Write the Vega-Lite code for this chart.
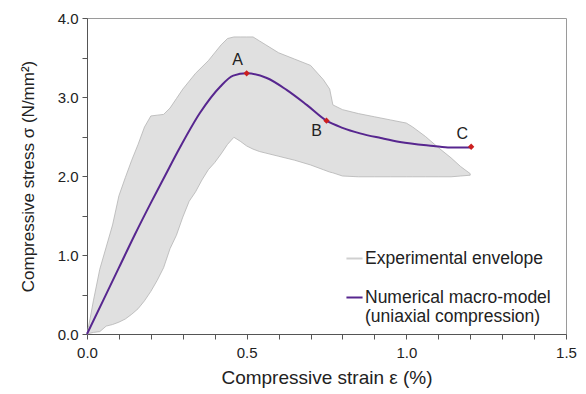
{
  "$schema": "https://vega.github.io/schema/vega-lite/v6.json",
  "width": 479,
  "height": 316,
  "autosize": "none",
  "padding": {"left": 87, "top": 18, "right": 20, "bottom": 60},
  "background": "white",
  "config": {
    "font": "Liberation Sans",
    "view": {"stroke": "#9a9a9a", "strokeWidth": 1},
    "axis": {
      "grid": false,
      "domainColor": "#555555",
      "tickColor": "#555555",
      "tickSize": 5,
      "labelFont": "Liberation Sans",
      "labelFontSize": 15,
      "labelColor": "#222222",
      "labelOverlap": false,
      "labelFlush": false,
      "titleFont": "Liberation Sans",
      "titleFontSize": 17,
      "titleFontWeight": "normal",
      "titleColor": "#222222"
    }
  },
  "datasets": {
    "envelope": [
      {"strain": 0.0, "lo": 0.0, "hi": 0.0},
      {"strain": 0.01, "lo": 0.01, "hi": 0.2},
      {"strain": 0.02, "lo": 0.02, "hi": 0.42},
      {"strain": 0.04, "lo": 0.03, "hi": 0.82},
      {"strain": 0.06, "lo": 0.1, "hi": 1.1},
      {"strain": 0.08, "lo": 0.12, "hi": 1.38},
      {"strain": 0.1, "lo": 0.15, "hi": 1.75},
      {"strain": 0.12, "lo": 0.19, "hi": 1.98},
      {"strain": 0.14, "lo": 0.25, "hi": 2.2},
      {"strain": 0.16, "lo": 0.32, "hi": 2.4},
      {"strain": 0.18, "lo": 0.42, "hi": 2.62},
      {"strain": 0.2, "lo": 0.54, "hi": 2.76},
      {"strain": 0.22, "lo": 0.68, "hi": 2.77},
      {"strain": 0.24, "lo": 0.84, "hi": 2.78},
      {"strain": 0.26, "lo": 1.08, "hi": 2.86},
      {"strain": 0.28, "lo": 1.25, "hi": 2.98},
      {"strain": 0.3, "lo": 1.48, "hi": 3.1},
      {"strain": 0.32, "lo": 1.68, "hi": 3.2},
      {"strain": 0.34, "lo": 1.8, "hi": 3.3},
      {"strain": 0.36, "lo": 1.95, "hi": 3.38},
      {"strain": 0.38, "lo": 2.08, "hi": 3.46},
      {"strain": 0.4, "lo": 2.17, "hi": 3.56},
      {"strain": 0.42, "lo": 2.28, "hi": 3.66},
      {"strain": 0.44, "lo": 2.4, "hi": 3.74},
      {"strain": 0.46, "lo": 2.49, "hi": 3.76},
      {"strain": 0.48, "lo": 2.44, "hi": 3.76},
      {"strain": 0.5, "lo": 2.38, "hi": 3.76},
      {"strain": 0.52, "lo": 2.34, "hi": 3.76},
      {"strain": 0.54, "lo": 2.31, "hi": 3.71},
      {"strain": 0.56, "lo": 2.29, "hi": 3.66},
      {"strain": 0.6, "lo": 2.25, "hi": 3.56},
      {"strain": 0.65, "lo": 2.2, "hi": 3.48},
      {"strain": 0.7, "lo": 2.14, "hi": 3.4},
      {"strain": 0.74, "lo": 2.08, "hi": 3.22},
      {"strain": 0.76, "lo": 2.05, "hi": 3.1},
      {"strain": 0.77, "lo": 2.04, "hi": 2.9},
      {"strain": 0.8, "lo": 2.0, "hi": 2.84},
      {"strain": 0.85, "lo": 1.99, "hi": 2.79},
      {"strain": 0.9, "lo": 1.99, "hi": 2.75},
      {"strain": 0.95, "lo": 1.99, "hi": 2.71},
      {"strain": 1.0, "lo": 1.99, "hi": 2.67},
      {"strain": 1.02, "lo": 1.99, "hi": 2.62},
      {"strain": 1.06, "lo": 1.99, "hi": 2.5},
      {"strain": 1.1, "lo": 1.99, "hi": 2.36},
      {"strain": 1.14, "lo": 1.99, "hi": 2.23},
      {"strain": 1.17, "lo": 2.0, "hi": 2.12},
      {"strain": 1.2, "lo": 2.01, "hi": 2.03}
    ],
    "model": [
      {"strain": 0.0, "stress": 0.0},
      {"strain": 0.05, "stress": 0.42},
      {"strain": 0.1, "stress": 0.84},
      {"strain": 0.15, "stress": 1.26},
      {"strain": 0.2, "stress": 1.66},
      {"strain": 0.244, "stress": 2.0},
      {"strain": 0.291, "stress": 2.36},
      {"strain": 0.354, "stress": 2.8},
      {"strain": 0.417, "stress": 3.13},
      {"strain": 0.458, "stress": 3.27},
      {"strain": 0.5, "stress": 3.3},
      {"strain": 0.563, "stress": 3.24},
      {"strain": 0.625, "stress": 3.09},
      {"strain": 0.688, "stress": 2.9},
      {"strain": 0.75, "stress": 2.7},
      {"strain": 0.8, "stress": 2.61},
      {"strain": 0.855, "stress": 2.54},
      {"strain": 0.92, "stress": 2.48},
      {"strain": 0.98, "stress": 2.43},
      {"strain": 1.085, "stress": 2.38},
      {"strain": 1.137, "stress": 2.36},
      {"strain": 1.2, "stress": 2.36}
    ],
    "points": [
      {"strain": 0.5, "stress": 3.3, "label": "A"},
      {"strain": 0.75, "stress": 2.7, "label": "B"},
      {"strain": 1.203, "stress": 2.37, "label": "C"}
    ]
  },
  "layer": [
    {
      "data": {"name": "envelope"},
      "mark": {"type": "area", "fill": "#e0e0e0", "stroke": "#b4b4b4", "strokeWidth": 0.8},
      "encoding": {
        "x": {
          "field": "strain", "type": "quantitative",
          "scale": {"domain": [0, 1.5], "nice": false},
          "axis": {
            "title": "Compressive strain ε (%)",
            "titleFontSize": 19,
            "values": [0, 0.1, 0.2, 0.3, 0.4, 0.5, 0.6, 0.7, 0.8, 0.9, 1.0, 1.1, 1.2, 1.3, 1.4, 1.5],
            "tickCount": 40,
            "labelExpr": "abs(datum.value * 2 - round(datum.value * 2)) < 0.001 ? format(datum.value, '.1f') : ''",
            "labelOverlap": false,
            "labelBound": false,
            "labelFlush": false,
            "labelPadding": 6,
            "titlePadding": 8
          }
        },
        "y": {
          "field": "lo", "type": "quantitative",
          "scale": {"domain": [0, 4], "nice": false},
          "axis": {
            "title": "Compressive stress σ (N/mm²)",
            "values": [0, 0.5, 1, 1.5, 2, 2.5, 3, 3.5, 4],
            "tickCount": 40,
            "labelExpr": "abs(datum.value - round(datum.value)) < 0.001 ? format(datum.value, '.1f') : ''",
            "labelOverlap": false,
            "labelPadding": 4,
            "titlePadding": 20
          }
        },
        "y2": {"field": "hi"}
      }
    },
    {
      "data": {"name": "model"},
      "mark": {"type": "line", "strokeWidth": 2, "interpolate": "monotone"},
      "encoding": {
        "x": {"field": "strain", "type": "quantitative"},
        "y": {"field": "stress", "type": "quantitative"},
        "color": {
          "datum": "Numerical macro-model",
          "scale": {
            "domain": ["Experimental envelope", "Numerical macro-model"],
            "range": ["#d0d0d0", "#57268f"]
          },
          "legend": {
            "title": null,
            "orient": "none",
            "legendX": 258,
            "legendY": 231,
            "symbolType": "stroke",
            "symbolSize": 260,
            "symbolStrokeWidth": 2,
            "labelFont": "Liberation Sans",
            "labelFontSize": 17.5,
            "labelColor": "#222222",
            "labelLimit": 300,
            "labelOffset": 1,
            "rowPadding": 21,
            "labelExpr": "datum.label == 'Numerical macro-model' ? ['Numerical macro-model', '(uniaxial compression)'] : datum.label"
          }
        }
      }
    },
    {
      "data": {"name": "points"},
      "mark": {"type": "point", "shape": "diamond", "filled": true, "color": "#cc1f1f", "size": 40, "opacity": 1},
      "encoding": {
        "x": {"field": "strain", "type": "quantitative"},
        "y": {"field": "stress", "type": "quantitative"}
      }
    },
    {
      "data": {"name": "points"},
      "mark": {"type": "text", "fontSize": 16, "font": "Liberation Sans", "color": "#222222", "dx": -9, "dy": -13},
      "transform": [{"filter": "datum.label != 'B'"}],
      "encoding": {
        "x": {"field": "strain", "type": "quantitative"},
        "y": {"field": "stress", "type": "quantitative"},
        "text": {"field": "label"}
      }
    },
    {
      "data": {"name": "points"},
      "mark": {"type": "text", "fontSize": 16, "font": "Liberation Sans", "color": "#222222", "dx": -10, "dy": 10},
      "transform": [{"filter": "datum.label == 'B'"}],
      "encoding": {
        "x": {"field": "strain", "type": "quantitative"},
        "y": {"field": "stress", "type": "quantitative"},
        "text": {"field": "label"}
      }
    }
  ]
}
